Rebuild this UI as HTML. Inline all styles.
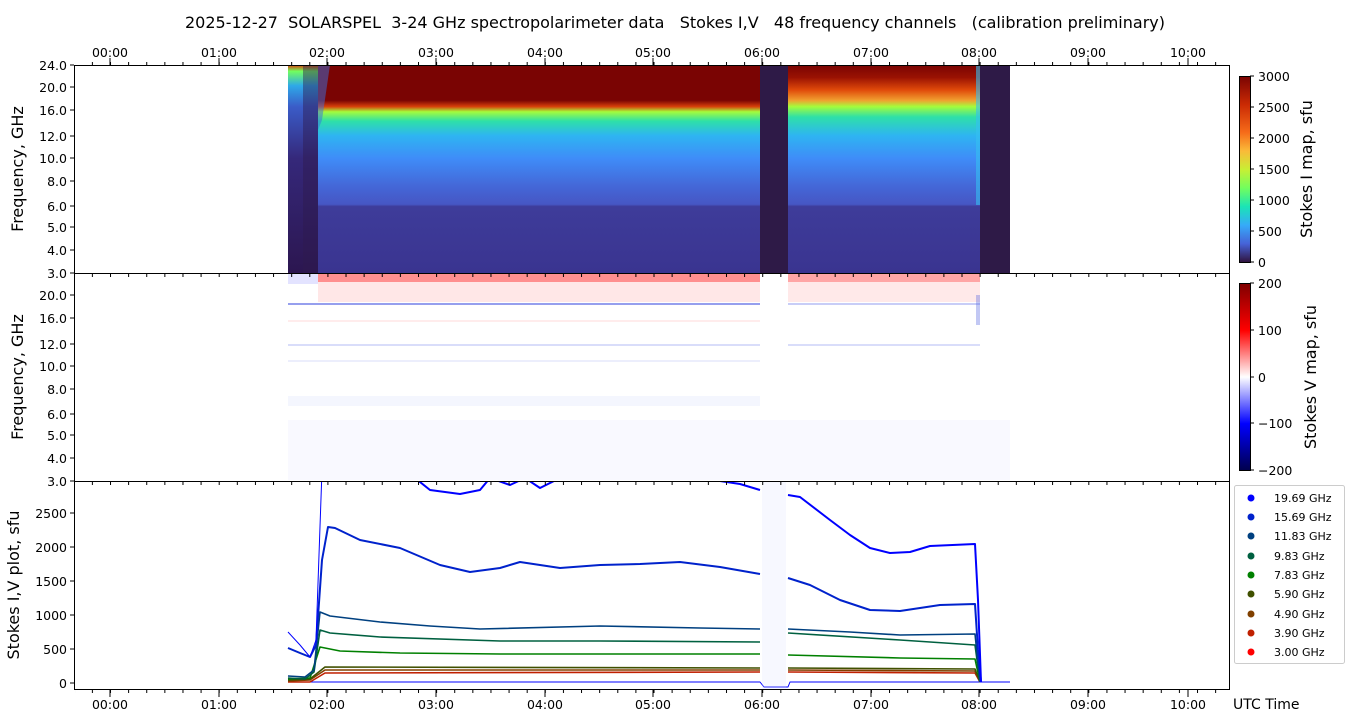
<!DOCTYPE html>
<html><head><meta charset="utf-8"><style>
html,body{margin:0;padding:0;background:#fff}
svg{display:block;font-family:"DejaVu Sans","Liberation Sans",sans-serif}
</style></head><body>
<svg width="1350" height="725" viewBox="0 0 1350 725" xmlns="http://www.w3.org/2000/svg">
<defs>
<linearGradient id="turbo" x1="0" y1="1" x2="0" y2="0">
<stop offset="0" stop-color="#30123b"/><stop offset="0.1" stop-color="#4662d7"/><stop offset="0.2" stop-color="#36aaf9"/><stop offset="0.3" stop-color="#1ae4b6"/><stop offset="0.4" stop-color="#72fe5e"/><stop offset="0.5" stop-color="#c8ef34"/><stop offset="0.6" stop-color="#faba39"/><stop offset="0.7" stop-color="#f66b19"/><stop offset="0.85" stop-color="#ca2a04"/><stop offset="1" stop-color="#7a0403"/>
</linearGradient>
<linearGradient id="seis" x1="0" y1="1" x2="0" y2="0">
<stop offset="0" stop-color="#00004c"/><stop offset="0.25" stop-color="#0000ff"/><stop offset="0.5" stop-color="#ffffff"/><stop offset="0.75" stop-color="#ff0000"/><stop offset="1" stop-color="#7f0000"/>
</linearGradient>
<linearGradient id="imA" x1="0" y1="65" x2="0" y2="273" gradientUnits="userSpaceOnUse">
<stop offset="0" stop-color="#7a0403"/><stop offset="0.17" stop-color="#7a0403"/><stop offset="0.2" stop-color="#d8400a"/><stop offset="0.225" stop-color="#a4fc3c"/><stop offset="0.27" stop-color="#2ee0a8"/><stop offset="0.34" stop-color="#2eb4f2"/><stop offset="0.45" stop-color="#3f8cf8"/><stop offset="0.58" stop-color="#4468d8"/><stop offset="0.67" stop-color="#4656c4"/><stop offset="0.68" stop-color="#3e3c9a"/><stop offset="1" stop-color="#3a3490"/>
</linearGradient>
<linearGradient id="imB" x1="0" y1="65" x2="0" y2="273" gradientUnits="userSpaceOnUse">
<stop offset="0" stop-color="#7a0403"/><stop offset="0.06" stop-color="#9a1202"/><stop offset="0.12" stop-color="#e04a0a"/><stop offset="0.17" stop-color="#f0a030"/><stop offset="0.2" stop-color="#a4fc3c"/><stop offset="0.25" stop-color="#2ee0a8"/><stop offset="0.34" stop-color="#2eb4f2"/><stop offset="0.45" stop-color="#3f8cf8"/><stop offset="0.58" stop-color="#4468d8"/><stop offset="0.67" stop-color="#4656c4"/><stop offset="0.68" stop-color="#3e3c9a"/><stop offset="1" stop-color="#3a3490"/>
</linearGradient>
<linearGradient id="imP" x1="0" y1="65" x2="0" y2="273" gradientUnits="userSpaceOnUse">
<stop offset="0" stop-color="#d83a08"/><stop offset="0.03" stop-color="#72fe5e"/><stop offset="0.1" stop-color="#2ea8e8"/><stop offset="0.2" stop-color="#3a5cc8"/><stop offset="0.45" stop-color="#35287a"/><stop offset="1" stop-color="#2c1650"/>
</linearGradient>
<pattern id="minB" x="110" y="0" width="18.117" height="10" patternUnits="userSpaceOnUse"><rect x="0" y="0" width="1" height="10" fill="#000"/></pattern>
<clipPath id="c3"><rect x="74" y="481" width="1155" height="209"/></clipPath>
</defs>

<text x="675" y="28" font-size="16" text-anchor="middle" style="white-space:pre" xml:space="preserve">2025-12-27  SOLARSPEL  3-24 GHz spectropolarimeter data   Stokes I,V   48 frequency channels   (calibration preliminary)</text>

<rect x="288" y="65" width="30" height="208" fill="url(#imP)"/>
<rect x="303" y="65" width="15" height="208" fill="#2e1a4e" opacity="0.45"/>
<rect x="318" y="65" width="442" height="208" fill="url(#imA)"/>
<polygon points="318,65 330,65 322,120 318,130" fill="#3a70e0" opacity="0.5"/>
<rect x="760" y="65" width="28" height="208" fill="#2e1a47"/>
<rect x="788" y="65" width="192" height="208" fill="url(#imB)"/>
<rect x="976" y="65" width="4" height="140" fill="#36c0f0" opacity="0.6"/>
<rect x="980" y="65" width="30" height="208" fill="#2e1a47"/>

<rect x="288" y="274" width="30" height="10" fill="#c8c8ff" opacity="0.5"/>
<rect x="318" y="274" width="442" height="8" fill="#ff2020" opacity="0.5"/>
<rect x="788" y="274" width="192" height="8" fill="#ff2020" opacity="0.4"/>
<rect x="318" y="282" width="442" height="20" fill="#ff9090" opacity="0.22"/>
<rect x="788" y="282" width="192" height="20" fill="#ff9090" opacity="0.2"/>
<rect x="288" y="303" width="472" height="2" fill="#4050e0" opacity="0.55"/>
<rect x="788" y="303" width="192" height="2" fill="#6070e8" opacity="0.35"/>
<rect x="288" y="320" width="472" height="2" fill="#ff8080" opacity="0.15"/>
<rect x="288" y="344" width="472" height="2" fill="#8090f0" opacity="0.3"/>
<rect x="788" y="344" width="192" height="2" fill="#8090f0" opacity="0.3"/>
<rect x="288" y="360" width="472" height="2" fill="#a0a8f0" opacity="0.2"/>
<rect x="288" y="396" width="472" height="10" fill="#c8d0f8" opacity="0.2"/>
<rect x="288" y="420" width="722" height="60" fill="#f4f4ff" opacity="0.5"/>
<rect x="976" y="295" width="4" height="30" fill="#5060e0" opacity="0.35"/>

<g clip-path="url(#c3)" fill="none" stroke-width="1.6" stroke-linejoin="round">
<polyline stroke="#0000ff" stroke-width="1" points="288,682 760,682 764,687 788,687 790,682 1010,682"/>
<polyline stroke="#c02000" points="288,682 310,682 325,673 760,672"/><polyline stroke="#c02000" points="788,672 975,673 980,682"/>
<polyline stroke="#804000" points="288,681 310,680 325,670 760,670"/><polyline stroke="#804000" points="788,670 975,671 980,682"/>
<polyline stroke="#405000" points="288,680 310,679 325,667 760,668"/><polyline stroke="#405000" points="788,668 975,669 980,682"/>
<polyline stroke="#008000" points="288,679 310,678 320,647 340,651 400,653 500,654 760,654"/><polyline stroke="#008000" points="788,655 900,658 975,659 980,682"/>
<polyline stroke="#006040" points="288,678 305,679 314,672 320,630 330,633 380,637 500,641 600,641 760,642"/><polyline stroke="#006040" points="788,633 900,640 975,645 980,682"/>
<polyline stroke="#004080" points="288,676 305,677 314,670 320,612 330,616 380,622 430,626 480,629 600,626 700,628 760,629"/><polyline stroke="#004080" points="788,629 850,632 900,635 975,634 980,682"/>
<polyline stroke="#0022cc" stroke-width="2" points="288,648 300,653 310,657 316,645 322,560 328,527 335,528 360,540 400,548 440,565 470,572 500,568 520,562 560,568 600,565 640,564 680,562 720,567 760,574"/><polyline stroke="#0022cc" stroke-width="2" points="788,578 810,585 840,600 870,610 900,611 940,605 975,604 978,650 981,682"/>
<polyline stroke="#0000ff" stroke-width="1" points="288,632 300,645 310,657 316,640 322,470"/>
<polyline stroke="#0000ff" stroke-width="2" points="415,478 430,490 460,494 480,490 490,478 510,485 525,478 540,488 560,478 700,478 740,484 760,490"/>
<polyline stroke="#0000ff" stroke-width="2" points="788,495 800,497 830,520 850,535 870,548 890,553 910,552 930,546 975,544 978,600 981,682"/>
<rect x="762" y="481" width="24" height="209" fill="#d8dcff" opacity="0.2"/>
</g>

<g fill="none" stroke="#000" stroke-width="1">
<rect x="74.5" y="65.5" width="1155" height="208"/>
<rect x="74.5" y="273.5" width="1155" height="208"/>
<rect x="74.5" y="481.5" width="1155" height="208"/>
</g>
<rect x="75" y="62" width="1154" height="3" fill="url(#minB)"/>
<rect x="75" y="690" width="1154" height="3" fill="url(#minB)"/>
<rect x="75" y="274" width="1154" height="3" fill="url(#minB)"/>
<rect x="75" y="482" width="1154" height="3" fill="url(#minB)"/>
<g stroke="#000" stroke-width="1">
<path d="M110,58V65M219,58V65M327,58V65M436,58V65M545,58V65M653,58V65M762,58V65M871,58V65M979,58V65M1088,58V65M1188,58V65"/>
<path d="M110,690V697M219,690V697M327,690V697M436,690V697M545,690V697M653,690V697M762,690V697M871,690V697M979,690V697M1088,690V697M1188,690V697"/>
<path d="M70,65H74M70,87H74M70,110H74M70,136H74M70,158H74M70,181H74M70,206H74M70,227H74M70,250H74M70,273H74"/>
<path d="M70,295H74M70,318H74M70,344H74M70,366H74M70,389H74M70,414H74M70,435H74M70,458H74M70,481H74"/>
<path d="M70,683H74M70,649H74M70,615H74M70,581H74M70,547H74M70,513H74"/>
</g>
<g font-size="12.5" text-anchor="middle">
<text x="110" y="57">00:00</text><text x="219" y="57">01:00</text><text x="327" y="57">02:00</text><text x="436" y="57">03:00</text><text x="545" y="57">04:00</text><text x="653" y="57">05:00</text><text x="762" y="57">06:00</text><text x="871" y="57">07:00</text><text x="979" y="57">08:00</text><text x="1088" y="57">09:00</text><text x="1188" y="57">10:00</text>
<text x="110" y="709">00:00</text><text x="219" y="709">01:00</text><text x="327" y="709">02:00</text><text x="436" y="709">03:00</text><text x="545" y="709">04:00</text><text x="653" y="709">05:00</text><text x="762" y="709">06:00</text><text x="871" y="709">07:00</text><text x="979" y="709">08:00</text><text x="1088" y="709">09:00</text><text x="1188" y="709">10:00</text>
</g>
<g font-size="12.5" text-anchor="end">
<text x="67" y="70">24.0</text><text x="67" y="92">20.0</text><text x="67" y="115">16.0</text><text x="67" y="141">12.0</text><text x="67" y="163">10.0</text><text x="67" y="186">8.0</text><text x="67" y="211">6.0</text><text x="67" y="232">5.0</text><text x="67" y="255">4.0</text><text x="67" y="278">3.0</text>
<text x="67" y="300">20.0</text><text x="67" y="323">16.0</text><text x="67" y="349">12.0</text><text x="67" y="371">10.0</text><text x="67" y="394">8.0</text><text x="67" y="419">6.0</text><text x="67" y="440">5.0</text><text x="67" y="463">4.0</text><text x="67" y="486">3.0</text>
<text x="67" y="688">0</text><text x="67" y="654">500</text><text x="67" y="620">1000</text><text x="67" y="586">1500</text><text x="67" y="552">2000</text><text x="67" y="518">2500</text>
</g>
<g font-size="16" text-anchor="middle">
<text transform="translate(23,169) rotate(-90)">Frequency, GHz</text>
<text transform="translate(23,377) rotate(-90)">Frequency, GHz</text>
<text transform="translate(19,585) rotate(-90)">Stokes I,V plot, sfu</text>
<text transform="translate(1312,169) rotate(-90)">Stokes I map, sfu</text>
<text transform="translate(1316,377) rotate(-90)">Stokes V map, sfu</text>
</g>
<text x="1233" y="709" font-size="14">UTC Time</text>

<rect x="1239.5" y="76.5" width="11" height="186" fill="url(#turbo)" stroke="#000"/>
<rect x="1239.5" y="283.5" width="11" height="187" fill="url(#seis)" stroke="#000"/>
<g stroke="#000"><path d="M1250,76H1254M1250,107H1254M1250,138H1254M1250,169H1254M1250,200H1254M1250,231H1254M1250,262H1254M1250,283H1254M1250,330H1254M1250,377H1254M1250,423H1254M1250,470H1254"/></g>
<g font-size="12.5">
<text x="1258" y="81">3000</text><text x="1258" y="112">2500</text><text x="1258" y="143">2000</text><text x="1258" y="174">1500</text><text x="1258" y="205">1000</text><text x="1258" y="236">500</text><text x="1258" y="267">0</text>
<text x="1258" y="288">200</text><text x="1258" y="335">100</text><text x="1258" y="382">0</text><text x="1258" y="428">−100</text><text x="1258" y="475">−200</text>
</g>

<rect x="1234.5" y="485.5" width="110" height="178" rx="2" fill="#fff" stroke="#ccc"/>
<g font-size="11">
<circle cx="1251" cy="498" r="3.5" fill="#0000ff"/><text x="1274" y="502">19.69 GHz</text>
<circle cx="1251" cy="517" r="3.5" fill="#0022cc"/><text x="1274" y="521">15.69 GHz</text>
<circle cx="1251" cy="536" r="3.5" fill="#004080"/><text x="1274" y="540">11.83 GHz</text>
<circle cx="1251" cy="556" r="3.5" fill="#006040"/><text x="1274" y="560">9.83 GHz</text>
<circle cx="1251" cy="575" r="3.5" fill="#008000"/><text x="1274" y="579">7.83 GHz</text>
<circle cx="1251" cy="594" r="3.5" fill="#405000"/><text x="1274" y="598">5.90 GHz</text>
<circle cx="1251" cy="614" r="3.5" fill="#804000"/><text x="1274" y="618">4.90 GHz</text>
<circle cx="1251" cy="633" r="3.5" fill="#c02000"/><text x="1274" y="637">3.90 GHz</text>
<circle cx="1251" cy="652" r="3.5" fill="#ff0000"/><text x="1274" y="656">3.00 GHz</text>
</g>
</svg>
</body></html>
